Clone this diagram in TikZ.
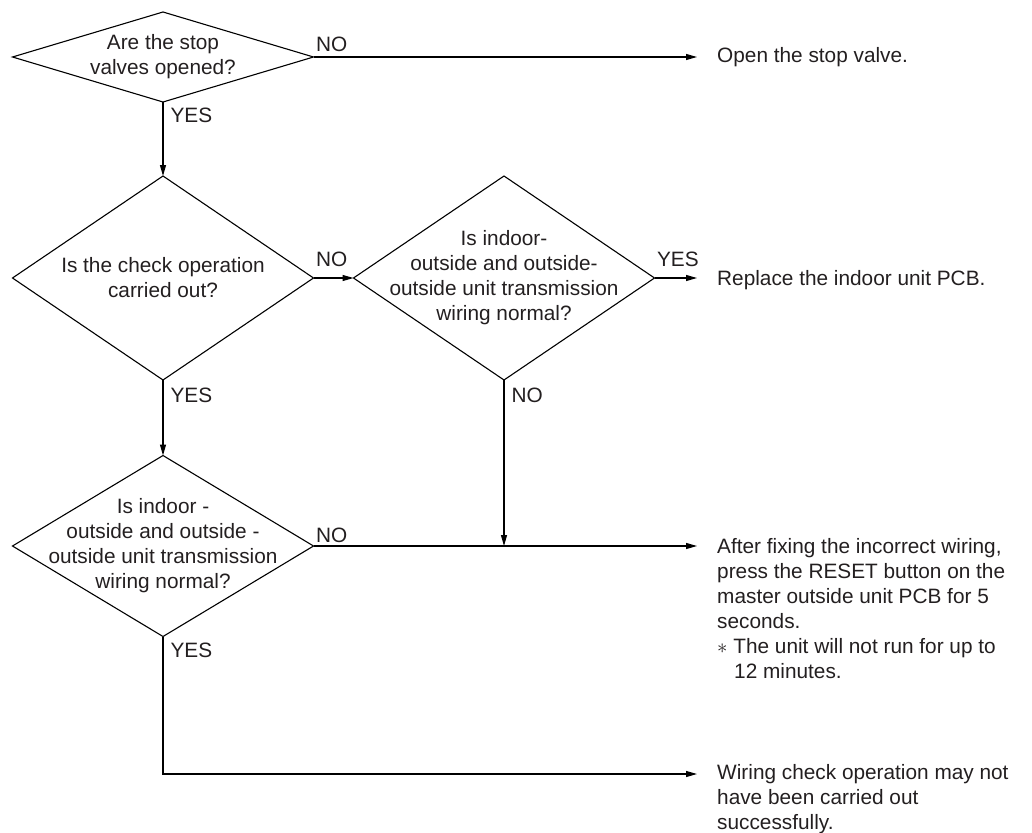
\documentclass[tikz,border=0pt]{standalone}
\usepackage{fontspec}
\setmainfont{Liberation Sans}
\usetikzlibrary{arrows.meta}
\usetikzlibrary{shapes.geometric}
\usetikzlibrary{positioning}
\definecolor{InkGray}{RGB}{35,31,32}
\newcommand{\flowfont}{\fontsize{20.8}{25}\selectfont}
\tikzset{
	>={Triangle[length=11pt, width=6pt]},
	flowline/.style={black, line width=1.1pt, ->},
	decision/.style={diamond, draw=black, line width=1.1pt, minimum width=301pt, inner sep=0pt, outer sep=0pt},
	question/.style={text=InkGray, font=\flowfont, align=center, inner sep=0pt},
	answer/.style={text=InkGray, font=\flowfont, align=left, inner xsep=20pt, inner ysep=0pt, anchor=north west},
	branch/.style={text=InkGray, font=\flowfont, inner sep=0pt, pos=0}
}

\begin{document}
\begin{tikzpicture}[x=1pt, y=-1pt, line join=miter]
		\useasboundingbox (0,0) rectangle (1032,832);
		
		% Decision diamonds
		\node[decision, minimum height=90pt] (stopvalve) at (163,57) {};
		\node[decision, minimum height=204pt] (checkop) at (163,278) {};
		\node[decision, minimum height=204pt] (wiringA) at (504,278) {};
		\node[decision, minimum height=181pt] (wiringB) at (163,546) {};
		
		% Questions inside the diamonds
		\node[question] (stopvalve-q) at (stopvalve) {Are the stop\\valves opened?};
		\node[question] (checkop-q) at (checkop) {Is the check operation\\carried out?};
		\node[question] (wiringA-q) at (wiringA) {Is indoor-\\outside and outside-\\outside unit transmission\\wiring normal?};
		\node[question] (wiringB-q) at (wiringB) {Is indoor -\\outside and outside -\\outside unit transmission\\wiring normal?};
		
		% Results on the right
		\node[answer, anchor=west] (openvalve) at (697,57) {Open the stop valve.};
		\node[answer, anchor=west] (replacepcb) at (697,280) {Replace the indoor unit PCB.};
		\node[answer] (fixwiring) at (697,538) {After fixing the incorrect wiring,\\press the RESET button on the\\master outside unit PCB for 5\\seconds.\\$\ast$ The unit will not run for up to\\\hspace*{17pt}12 minutes.};
		\node[answer] (checkfail) at (697,764) {Wiring check operation may not\\have been carried out\\successfully.};
		
		% Connectors with YES / NO
		\draw[flowline] (stopvalve.east) -- node[branch, anchor=south west, xshift=2pt, yshift=5pt] (no-a) {NO} (stopvalve.east -| openvalve.west);
		\draw[flowline] (stopvalve.south) -- node[branch, anchor=north west, xshift=7pt, yshift=-5pt] (yes-a) {YES} (checkop.north);
		\draw[flowline] (checkop.east) -- node[branch, anchor=south west, xshift=2pt, yshift=11pt] (no-b) {NO} (wiringA.west);
		\draw[flowline] (checkop.south) -- node[branch, anchor=north west, xshift=7pt, yshift=-7pt] (yes-b) {YES} (wiringB.north);
		\draw[flowline] (wiringA.east) -- node[branch, anchor=south west, xshift=2pt, yshift=11pt] (yes-c) {YES} (wiringA.east -| replacepcb.west);
		\draw[flowline] (wiringA.south) -- node[branch, anchor=north west, xshift=7pt, yshift=-7pt] (no-c) {NO} (wiringA.south |- wiringB.east);
		\draw[flowline] (wiringB.east) -- node[branch, anchor=south west, xshift=2pt, yshift=3pt] (no-d) {NO} (wiringB.east -| fixwiring.west);
		
		% Last YES turns right at the bottom
		\coordinate (turn) at (163,774);
		\draw[flowline] (wiringB.south) -- node[branch, anchor=north west, xshift=7pt, yshift=-6pt] (yes-d) {YES} (turn) -- (turn -| checkfail.west);
	\end{tikzpicture}
\end{document}
